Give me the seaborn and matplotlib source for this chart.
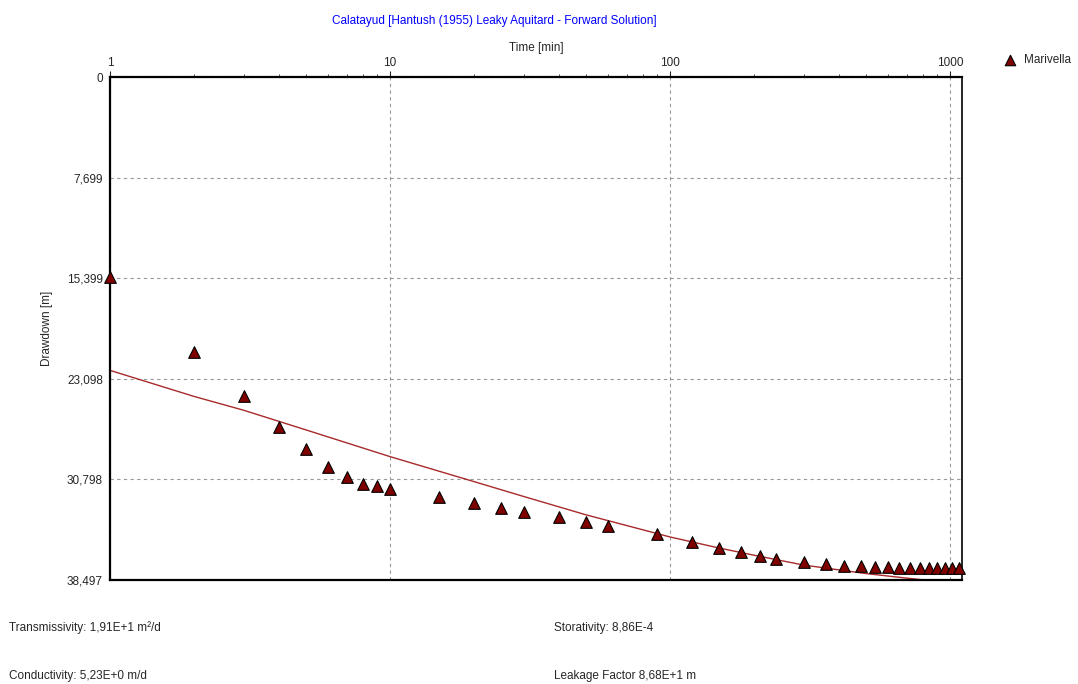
import matplotlib
matplotlib.use("Agg")
import matplotlib.pyplot as plt
import matplotlib.ticker as mticker
import seaborn as sns
import pandas as pd

# Observed drawdown at Marivella
obs_time = [1, 2, 3, 4, 5, 6, 7, 8, 9, 10, 15, 20, 25, 30, 40, 50, 60, 90,
            120, 150, 180, 210, 240, 300, 360, 420, 480, 540, 600, 660, 720,
            780, 840, 900, 960, 1020, 1080]
obs_drawdown = [15.3, 21.05, 24.4, 26.8, 28.5, 29.85, 30.6, 31.15, 31.3, 31.5,
                32.15, 32.6, 33.0, 33.3, 33.7, 34.06, 34.4, 35.0, 35.6, 36.05,
                36.35, 36.66, 36.9, 37.1, 37.27, 37.4, 37.45, 37.5, 37.5, 37.55,
                37.55, 37.55, 37.55, 37.55, 37.6, 37.6, 37.6]

# Hantush (1955) forward solution
fit_time = [1, 2, 3, 5, 10, 20, 30, 50, 100, 150, 200, 300, 500, 700, 1000, 1100]
fit_drawdown = [22.45, 24.45, 25.5, 27.0, 29.05, 30.97, 32.1, 33.5, 35.2, 36.05,
                36.6, 37.35, 38.0, 38.35, 38.7, 38.8]

y_ticks = [0, 7.699, 15.399, 23.098, 30.798, 38.497]
y_tick_labels = ["0", "7,699", "15,399", "23,098", "30,798", "38,497"]
x_ticks = [1, 10, 100, 1000]

obs = pd.DataFrame({"time": obs_time, "drawdown": obs_drawdown})
fit = pd.DataFrame({"time": fit_time, "drawdown": fit_drawdown})

sns.set_style("white")
plt.rcParams["font.family"] = ["Liberation Sans", "DejaVu Sans"]
plt.rcParams["font.size"] = 8

fig = plt.figure(figsize=(10.78, 6.84), dpi=100)
ax = fig.add_axes([0.102, 0.152, 0.7904, 0.7354])

sns.lineplot(data=fit, x="time", y="drawdown", ax=ax, color="#a82a2a",
             linewidth=1, zorder=2)
sns.scatterplot(data=obs, x="time", y="drawdown", ax=ax, marker="^", s=70,
                color="#800000", edgecolor="black", linewidth=0.8,
                label="Marivella", zorder=3, clip_on=False)

ax.set_xscale("log")
ax.set_xlim(1, 1104)
ax.set_ylim(38.497, 0)

ax.xaxis.tick_top()
ax.xaxis.set_label_position("top")
ax.set_xticks(x_ticks)
ax.xaxis.set_major_formatter(mticker.FuncFormatter(lambda v, p: f"{v:g}"))
ax.xaxis.set_minor_locator(mticker.LogLocator(base=10, subs=range(2, 10)))
ax.xaxis.set_minor_formatter(mticker.NullFormatter())
ax.tick_params(axis="x", which="major", length=4, pad=2, labelsize=8.5)
ax.tick_params(axis="x", which="minor", length=2)
ax.set_yticks(y_ticks)
ax.set_yticklabels(y_tick_labels)
ax.tick_params(axis="y", length=3, pad=2, labelsize=8.5)

ax.grid(True, which="major", linestyle=(0, (3, 3)), color="#999999", linewidth=0.8)
for side in ["left", "right"]:
    ax.spines[side].set_color("black")
    ax.spines[side].set_linewidth(1.6 if side == "left" else 1.2)
for side in ["top", "bottom"]:
    ax.spines[side].set_color("black")
    ax.spines[side].set_linewidth(1.6)

ax.set_xlabel("Time [min]", fontsize=8.5, labelpad=4)
ax.set_ylabel("Drawdown [m]", fontsize=8.5, labelpad=10)

fig.text(0.459, 0.969, "Calatayud [Hantush (1955) Leaky Aquitard - Forward Solution]",
         color="#0000ff", fontsize=8.5, ha="center", va="center")

ax.legend(loc="upper left", bbox_to_anchor=(1.03, 1.066), frameon=False,
          fontsize=8.5, handletextpad=0.2, markerscale=0.9)

fig.text(0.008, 0.082, "Transmissivity: 1,91E+1 m²/d", fontsize=8.5, va="center")
fig.text(0.514, 0.082, "Storativity: 8,86E-4", fontsize=8.5, va="center")
fig.text(0.008, 0.012, "Conductivity: 5,23E+0 m/d", fontsize=8.5, va="center")
fig.text(0.514, 0.012, "Leakage Factor 8,68E+1 m", fontsize=8.5, va="center")

fig.savefig("out.png", dpi=100)
